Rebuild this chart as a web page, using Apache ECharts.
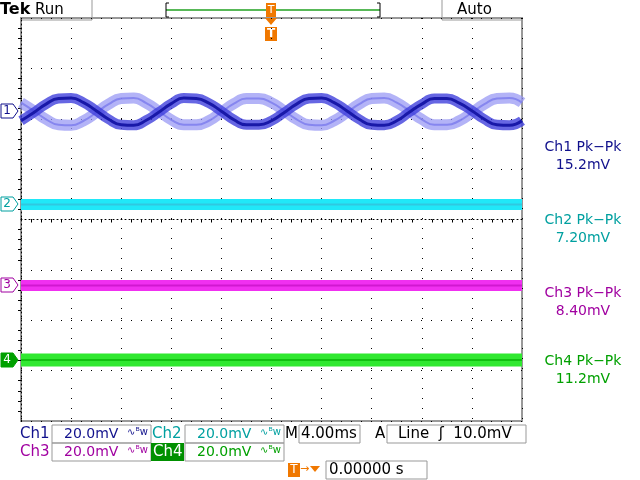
<!DOCTYPE html>
<html><head><meta charset="utf-8">
<script src="https://cdn.jsdelivr.net/npm/echarts@6/dist/echarts.min.js"></script>
<style>html,body{margin:0;padding:0;background:#fff}#c{width:640px;height:480px}</style>
</head><body><div id="c"></div>
<script>
// time samples (px-like units across 10 divisions = 500)
const timeSteps = [0,12.5,25,37.5,50,62.5,75,87.5,100,112.5,125,137.5,150,162.5,175,187.5,200,212.5,225,237.5,250,262.5,275,287.5,300,312.5,325,337.5,350,362.5,375,387.5,400,412.5,425,437.5,450,462.5,475,487.5,500];
// Ch1 dark trace (divisions)
const ch1Dark = [1.96,2.12,2.29,2.40,2.41,2.32,2.16,1.99,1.88,1.87,1.97,2.13,2.30,2.41,2.40,2.31,2.15,1.98,1.88,1.88,1.96,2.12,2.29,2.40,2.41,2.32,2.16,1.99,1.88,1.87,1.96,2.13,2.29,2.40,2.40,2.31,2.16,1.99,1.88,1.87,1.96];
// Ch1 light trace (divisions)
const ch1Light = [2.32,2.16,1.99,1.88,1.87,1.96,2.12,2.29,2.40,2.41,2.31,2.15,1.98,1.88,1.88,1.96,2.13,2.30,2.40,2.40,2.32,2.16,1.99,1.88,1.87,1.96,2.12,2.29,2.40,2.41,2.32,2.16,1.99,1.88,1.88,1.96,2.12,2.29,2.40,2.41,2.32];
const ch2Level = [0.30,0.30,0.30,0.30,0.30,0.30,0.30,0.30,0.30,0.30,0.30];
const ch3Level = [-1.31,-1.31,-1.31,-1.31,-1.31,-1.31,-1.31,-1.31,-1.31,-1.31,-1.31];
const ch4Level = [-2.79,-2.79,-2.79,-2.79,-2.79,-2.79,-2.79,-2.79,-2.79,-2.79,-2.79];
const flatSteps = [0,50,100,150,200,250,300,350,400,450,500];
const pkLabels = ['Ch1 Pk−Pk','Ch2 Pk−Pk','Ch3 Pk−Pk','Ch4 Pk−Pk'];
const pkValues = ['15.2mV','7.20mV','8.40mV','11.2mV'];

const C1L='#9a9af4',C2='#20e8f8',C3='#f030f0',C4='#30e830';
const T1='#10108c',T2='#00a0a0',T3='#a000a0',T4='#00a000',OR='#f07800';
const zip=(xs,ys)=>ys.map((v,i)=>[xs[i],v]);
function band(name,data,color,w,op,sm){return {name,type:'line',data,smooth:sm,symbol:'none',lineStyle:{color,width:w,opacity:op},silent:true};}
const chart=echarts.init(document.getElementById('c'));
const F='DejaVu Sans';
function txt(x,y,t,color,size,extra){return {type:'text',x,y,style:Object.assign({text:t,fill:color,font:(size||14)+'px "'+F+'"',textVerticalAlign:'middle'},extra||{})};}
function box(x,y,w,h,stroke,fill){return {type:'rect',shape:{x,y,width:w,height:h},style:{fill:fill||'none',stroke:stroke||'#999',lineWidth:1}};}
function line(x1,y1,x2,y2,c,w){return {type:'line',shape:{x1,y1,x2,y2},style:{stroke:c,lineWidth:w||1}};}
const rightYs=[[147,165,T1],[220,238,T2],[293,311,T3],[361,379,T4]];
const graphics=[
 txt(0,10,'Tek','#000',16,{font:'bold 16px "'+F+'"'}), txt(35,10,'Run','#000',15),
 line(92,0,92,20,'#999'), line(92,20,20,20,'#999'), line(442,0,442,20,'#999'), line(442,20,522,20,'#999'),
 txt(457,10,'Auto','#000',15),
 line(166,10,380,10,'#20a020',1.5), line(166,3,166,17,'#000'), line(166,3,169,3,'#000'), line(166,17,169,17,'#000'),
 line(380,3,380,17,'#000'), line(380,3,377,3,'#000'), line(380,17,377,17,'#000'),
 {type:'rect',shape:{x:266,y:3,width:10,height:14},style:{fill:OR}}, txt(271,10,'T','#fff',11,{textAlign:'center'}),
 {type:'polygon',shape:{points:[[265,18],[277,18],[271,25]]},style:{fill:OR}},
 {type:'rect',shape:{x:265,y:27,width:12,height:14},style:{fill:OR}}, txt(271,34,'T','#fff',12,{textAlign:'center',font:'bold 12px "'+F+'"'}),
];
[[111,'1',T1,'#fff'],[204,'2',T2,'#fff'],[285,'3',T3,'#fff'],[360,'4',T4,T4]].forEach(([y,l,c,f])=>{
 graphics.push({type:'polygon',shape:{points:[[1,y-7],[13,y-7],[18,y],[13,y+7],[1,y+7]]},style:{fill:f,stroke:c}});
 graphics.push(txt(7,y,l,f===c?'#fff':c,12,{textAlign:'center'}));
});
pkLabels.forEach((l,i)=>{const [a,b,c]=rightYs[i];graphics.push(txt(583,a,l,c,14,{textAlign:'center'}));graphics.push(txt(583,b,pkValues[i],c,14,{textAlign:'center'}));});
const S=14;
graphics.push(txt(20,434,'Ch1',T1,15), box(52,425,99,18), txt(64,434,'20.0mV',T1,S), txt(127,432,'∿ᴮw',T1,10));
graphics.push(txt(152,434,'Ch2',T2,15), box(185,425,99,18), txt(197,434,'20.0mV',T2,S), txt(260,432,'∿ᴮw',T2,10));
graphics.push(txt(285,434,'M',"#000",15), box(299,425,61,18), txt(301,434,'4.00ms','#000',15));
graphics.push(txt(375,434,'A','#000',15), box(387,425,139,18), txt(398,434,'Line  ʃ  10.0mV','#000',15));
graphics.push(txt(20,452,'Ch3',T3,15), box(52,443,99,18), txt(64,452,'20.0mV',T3,S), txt(127,450,'∿ᴮw',T3,10));
graphics.push({type:'rect',shape:{x:151,y:443,width:33,height:18},style:{fill:'#009000'}}, txt(153,452,'Ch4','#fff',15));
graphics.push(box(185,443,99,18), txt(197,452,'20.0mV',T4,S), txt(260,450,'∿ᴮw',T4,10));
graphics.push({type:'rect',shape:{x:288,y:463,width:12,height:14},style:{fill:OR}}, txt(294,470,'T','#fff',12,{textAlign:'center'}));
graphics.push(txt(300,469,'→',OR,11), {type:'polygon',shape:{points:[[310,466],[320,466],[315,472]]},style:{fill:OR}});
graphics.push(box(326,461,101,18), txt(329,470,'0.00000 s','#000',15));

chart.setOption({
 animation:false, backgroundColor:'#fff',
 grid:{left:21,right:118,top:18,bottom:59,show:true,borderColor:'#999',borderWidth:2},
 xAxis:{type:'value',min:0,max:500,interval:50,axisLabel:{show:false},
   axisLine:{onZero:true,lineStyle:{color:'#000',type:[1,3],width:1}},
   axisTick:{show:false},minorTick:{show:true,splitNumber:5,length:3,lineStyle:{color:'#000'}},
   splitLine:{show:true,lineStyle:{color:'#000',type:[1,9],width:1}}},
 yAxis:{type:'value',min:-4,max:4,interval:1,axisLabel:{show:false},
   axisLine:{onZero:true,lineStyle:{color:'#000',type:[1,3],width:1}},
   axisTick:{show:false},minorTick:{show:true,splitNumber:5,length:3,lineStyle:{color:'#000'}},
   splitLine:{show:true,lineStyle:{color:'#000',type:[1,9],width:1}}},
 graphic:graphics,
 series:[
  band('ch1L',zip(timeSteps,ch1Light),C1L,11,0.75,true),
  band('ch1Lc',zip(timeSteps,ch1Light),'#7a7aec',2,0.8,true),
  band('ch1D',zip(timeSteps,ch1Dark),'#4040dc',10,0.8,true),
  band('ch1Dc',zip(timeSteps,ch1Dark),'#1818a8',3,1,true),
  band('ch2',zip(flatSteps,ch2Level),C2,11,1,false),
  band('ch2c',zip(flatSteps,ch2Level),'#30c8e0',2,1,false),
  band('ch3',zip(flatSteps,ch3Level),C3,11,1,false),
  band('ch3c',zip(flatSteps,ch3Level),'#d018d0',2,1,false),
  band('ch4',zip(flatSteps,ch4Level),C4,13,1,false),
  band('ch4c',zip(flatSteps,ch4Level),'#10c010',2,1,false)
 ]
});
</script></body></html>
